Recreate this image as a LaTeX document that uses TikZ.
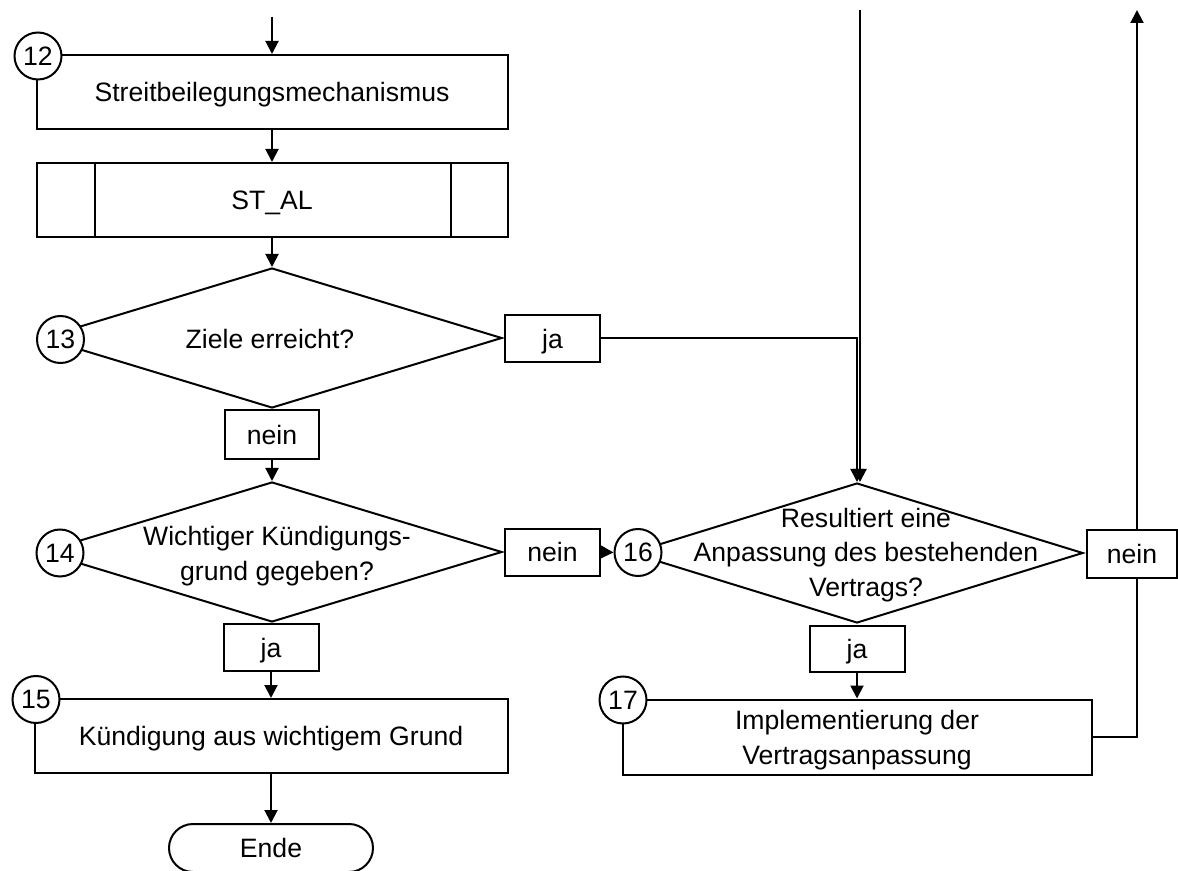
\documentclass[tikz,border=0pt]{standalone}
\usepackage{fontspec}
\setmainfont{Liberation Sans}
\usetikzlibrary{shapes.geometric,arrows.meta,calc}
\begin{document}
\begin{tikzpicture}[x=0.5pt,y=-0.5pt,
  every node/.style={font=\fontsize{13.3}{17.2}\selectfont},
  ln/.style={line width=1pt},
  arr/.style={ln,-{Triangle[length=6.5pt,width=6.5pt]}},
  box/.style={draw,ln,fill=white,inner sep=0pt,align=center},
  one/.style={text height=12.4pt,text depth=2.6pt},
  num/.style={circle,draw,ln,fill=white,inner sep=0pt,minimum size=23.5pt},
  dia/.style={diamond,draw,ln,fill=white,inner sep=0pt},
  lbl/.style={box,one,minimum width=47.5pt,minimum height=23.5pt},
  term/.style={draw,ln,one,fill=white,rounded corners=12pt,minimum width=102pt,minimum height=24pt,inner sep=0pt}]
\useasboundingbox (0,0) rectangle (1178,871);

% left column
\node[box,one,minimum width=235.5pt,minimum height=37pt] (b12) at (272,92) {Streitbeilegungsmechanismus};
\node[num] (c12) at (38,56) {12};
\node[box,one,minimum width=235.5pt,minimum height=37pt] (stal) at (272,200) {ST\_AL};
\draw[ln] ($(stal.north west)+(59,0)$) -- ($(stal.south west)+(59,0)$);
\draw[ln] ($(stal.north east)+(-58,0)$) -- ($(stal.south east)+(-58,0)$);

\node[dia,minimum width=230pt,minimum height=70pt] (d13) at (272,338) {};
\node[one] (t13) at (270,339) {Ziele erreicht?};
\node[num] (c13) at (60.5,339.5) {13};
\node[lbl] (ja13) at (552.5,338.5) {ja};
\node[lbl,minimum width=47pt,minimum height=24.5pt] (nein13) at (272,434.5) {nein};

\node[dia,minimum width=230pt,minimum height=70pt] (d14) at (272,552) {};
\node[align=center] (t14) at (277,556) {Wichtiger Kündigungs-\\grund gegeben?};
\node[num] (c14) at (60,553) {14};
\node[lbl] (nein14) at (552.5,552) {nein};
\node[lbl] (ja14) at (271,647.5) {ja};

\node[box,one,minimum width=236.5pt,minimum height=37pt] (b15) at (271,736) {Kündigung aus wichtigem Grund};
\node[num] (c15) at (36,699.5) {15};
\node[term] (ende) at (271,848) {Ende};

% right column
\node[dia,minimum width=226pt,minimum height=70pt] (d16) at (857,553) {};
\node[align=center] (t16) at (866,555) {Resultiert eine\\Anpassung des bestehenden\\Vertrags?};
\node[num] (c16) at (638,552.5) {16};
\node[lbl,minimum height=23pt] (ja16) at (857,649) {ja};
\node[box,minimum width=234.5pt,minimum height=37.5pt] (b17) at (857,737) {};
\node[align=center] (t17) at (857,740) {Implementierung der\\Vertragsanpassung};
\node[num] (c17) at (623,700) {17};

% connectors
\coordinate (in12) at (272,17);
\coordinate (inTop) at (860,10);
\coordinate (outTop) at (1137,10);

\draw[arr] (in12) -- (b12.north);
\draw[arr] (b12.south) -- (stal.north);
\draw[arr] (stal.south) -- (d13.north);
\draw[arr] (nein13.south) -- (d14.north);
\draw[arr] (ja14.south) -- (b15.north);
\draw[arr] (b15.south) -- (ende.north);
\draw[arr] (nein14.east) -- (c16.west);
\draw[arr] (ja13.east) -| (d16.north);
\draw[arr] (inTop) -- (inTop |- d16.north);
\draw[arr] (ja16.south) -- (b17.north);
\draw[arr] (b17.east) -| (outTop);

\node[lbl,minimum width=45pt,minimum height=24pt] (nein16) at (1132,554) {nein};
\end{tikzpicture}
\end{document}
